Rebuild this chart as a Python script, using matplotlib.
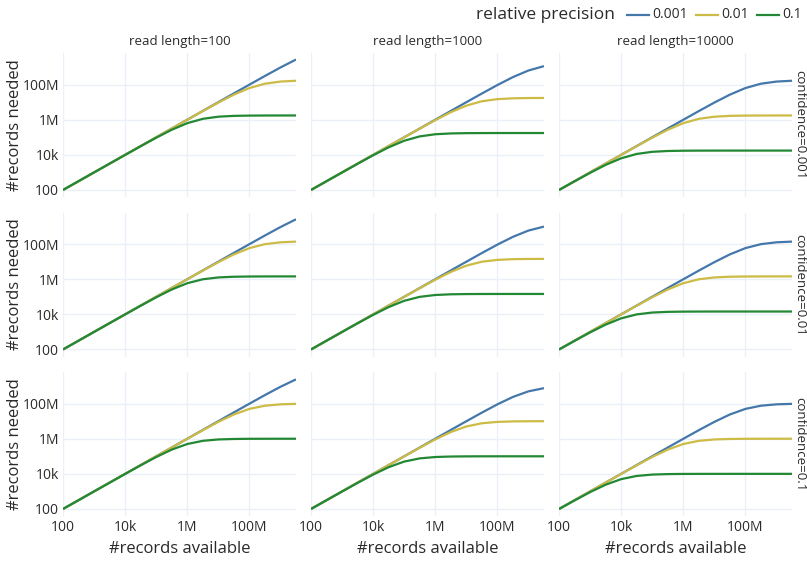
import matplotlib
matplotlib.use("Agg")
import matplotlib.pyplot as plt
from matplotlib.lines import Line2D
import matplotlib.ticker as mticker

plt.rcParams['font.family'] = ['Open Sans', 'DejaVu Sans']

# ---------------- data ----------------
records_available = [1e2, 3.162e2, 1e3, 3.162e3, 1e4, 3.162e4, 1e5, 3.162e5,
                     1e6, 3.162e6, 1e7, 3.162e7, 1e8, 3.162e8, 1e9, 3.162e9]

precisions = ["0.001", "0.01", "0.1"]
read_lengths = ["100", "1000", "10000"]
confidences = ["0.001", "0.01", "0.1"]

# confidence = 0.001
conf0001_rl100 = [
    [100, 316, 1000, 3162, 10000, 31620, 100000, 316200, 1000000, 3162000, 9994000, 31560000, 99430000, 310600000, 945900000, 2678000000],
    [100, 316, 1000, 3162, 10000, 31620, 99940, 315600, 994300, 3106000, 9459000, 26780000, 63640000, 112650000, 148940000, 165820000],
    [100, 316, 999.4, 3156, 9943, 31060, 94590, 267800, 636400, 1126500, 1489400, 1658200, 1719900, 1740400, 1746900, 1749000],
]
conf0001_rl1000 = [
    [100, 316, 1000, 3162, 10000, 31620, 100000, 316200, 999400, 3156000, 9943000, 31060000, 94590000, 267800000, 636400000, 1126500000],
    [100, 316, 1000, 3162, 9994, 31560, 99430, 310600, 945900, 2678000, 6364000, 11265000, 14894000, 16582000, 17199000, 17404000],
    [99.9, 315.6, 994, 3106, 9459, 26780, 63640, 112650, 148940, 165820, 171990, 174040, 174690, 174900, 174970, 175000],
]
conf0001_rl10000 = [
    [100, 316, 1000, 3162, 10000, 31620, 99940, 315600, 994300, 3106000, 9459000, 26780000, 63640000, 112650000, 148940000, 165820000],
    [100, 316, 999.4, 3156, 9943, 31060, 94590, 267800, 636400, 1126500, 1489400, 1658200, 1719900, 1740400, 1746900, 1749000],
    [99.4, 310.6, 946, 2678, 6364, 11265, 14894, 16582, 17199, 17404, 17469, 17490, 17497, 17500, 17500, 17500],
]
# confidence = 0.01
conf001_rl100 = [
    [100, 316, 1000, 3162, 10000, 31620, 100000, 316200, 1000000, 3162000, 9993000, 31550000, 99320000, 309500000, 935500000, 2596000000],
    [100, 316, 1000, 3162, 10000, 31620, 99930, 315500, 993200, 3095000, 9355000, 25960000, 59180000, 99410000, 126640000, 138640000],
    [100, 316, 999.3, 3155, 9932, 30950, 93550, 259600, 591800, 994100, 1266400, 1386400, 1429300, 1443400, 1447900, 1449300],
]
conf001_rl1000 = [
    [100, 316, 1000, 3162, 10000, 31620, 100000, 316200, 999300, 3155000, 9932000, 30950000, 93550000, 259600000, 591800000, 994100000],
    [100, 316, 1000, 3162, 9993, 31550, 99320, 309500, 935500, 2596000, 5918000, 9941000, 12664000, 13864000, 14293000, 14434000],
    [99.9, 315.5, 993, 3095, 9355, 25960, 59180, 99410, 126640, 138640, 142930, 144340, 144790, 144930, 144980, 145000],
]
conf001_rl10000 = [
    [100, 316, 1000, 3162, 10000, 31620, 99930, 315500, 993200, 3095000, 9355000, 25960000, 59180000, 99410000, 126640000, 138640000],
    [100, 316, 999.3, 3155, 9932, 30950, 93550, 259600, 591800, 994100, 1266400, 1386400, 1429300, 1443400, 1447900, 1449300],
    [99.3, 309.5, 935.5, 2596, 5918, 9941, 12664, 13864, 14293, 14434, 14479, 14493, 14498, 14500, 14500, 14500],
]
# confidence = 0.1
conf01_rl100 = [
    [100, 316.2, 1000, 3162, 10000, 31620, 100000, 316200, 999900, 3161000, 9990000, 31520000, 99010000, 306500000, 909100000, 2402000000],
    [100, 316.2, 1000, 3162, 9999, 31610, 99900, 315200, 990100, 3065000, 9091000, 24020000, 50000000, 75980000, 90910000, 96930000],
    [100, 316.1, 999, 3152, 9901, 30650, 90910, 240200, 500000, 759800, 909100, 969300, 990100, 996800, 999000, 999700],
]
conf01_rl1000 = [
    [100, 316.2, 1000, 3162, 10000, 31620, 99990, 316100, 999000, 3152000, 9901000, 30650000, 90910000, 240200000, 500000000, 759800000],
    [100, 316.2, 1000, 3161, 9990, 31520, 99010, 306500, 909100, 2402000, 5000000, 7598000, 9091000, 9693000, 9901000, 9968000],
    [99.9, 315.2, 990, 3065, 9091, 24020, 50000, 75980, 90910, 96930, 99010, 99680, 99900, 99970, 99990, 100000],
]
conf01_rl10000 = [
    [100, 316.2, 1000, 3162, 9999, 31610, 99900, 315200, 990100, 3065000, 9091000, 24020000, 50000000, 75980000, 90910000, 96930000],
    [100, 316.1, 999, 3152, 9901, 30650, 90910, 240200, 500000, 759800, 909100, 969300, 990100, 996800, 999000, 999700],
    [99, 306.5, 909, 2402, 5000, 7598, 9091, 9693, 9901, 9968, 9990, 9997, 9999, 10000, 10000, 10000],
]

panels = [
    [conf0001_rl100, conf0001_rl1000, conf0001_rl10000],
    [conf001_rl100, conf001_rl1000, conf001_rl10000],
    [conf01_rl100, conf01_rl1000, conf01_rl10000],
]

tick_values = [1e2, 1e4, 1e6, 1e8]
tick_labels = ["100", "10k", "1M", "100M"]

# ---------------- styling ----------------
colors = ["#4477AA", "#CCBB44", "#228833"]
grid_color = "#EBF0F8"
text_color = "#2a2a2a"

W, H = 807, 563
fig = plt.figure(figsize=(W / 100, H / 100), dpi=100)
fig.patch.set_facecolor("white")

col_left = [63, 311, 559]
col_w = 233
row_top = [53, 212.5, 372]
row_h = 144

for r in range(3):
    for c in range(3):
        ax = fig.add_axes([col_left[c] / W, 1 - (row_top[r] + row_h) / H, col_w / W, row_h / H])
        ax.set_xscale("log")
        ax.set_yscale("log")
        ax.set_xlim(1e2, 3.162e9)
        ax.set_ylim(10 ** 1.6, 10 ** 9.8)
        for s in ax.spines.values():
            s.set_visible(False)
        ax.xaxis.set_major_locator(mticker.FixedLocator(tick_values))
        ax.yaxis.set_major_locator(mticker.FixedLocator(tick_values))
        ax.xaxis.set_minor_locator(mticker.NullLocator())
        ax.yaxis.set_minor_locator(mticker.NullLocator())
        ax.grid(True, color=grid_color, linewidth=1.0)
        ax.set_axisbelow(True)
        ax.tick_params(length=0, labelsize=10, colors=text_color, pad=3)
        if c == 0:
            ax.set_yticklabels(tick_labels)
        else:
            ax.set_yticklabels([])
        if r == 2:
            ax.set_xticklabels(tick_labels)
        else:
            ax.set_xticklabels([])
        for k in range(3):
            ax.plot(records_available, panels[r][c][k], color=colors[k], linewidth=1.6,
                    solid_capstyle="butt", solid_joinstyle="round", zorder=3 + k)

# subplot titles and x titles
for c in range(3):
    xc = (col_left[c] + col_w / 2) / W
    fig.text(xc, 1 - 42 / H, "read length=" + read_lengths[c], ha="center", va="center",
             fontsize=9.5, color=text_color)
    fig.text(xc, 1 - 549 / H, "#records available", ha="center", va="center",
             fontsize=12, color=text_color)

# row labels
for r in range(3):
    yc = 1 - (row_top[r] + row_h / 2) / H
    fig.text(15 / W, yc, "#records needed", ha="center", va="center", rotation=90,
             fontsize=12, color=text_color)
    fig.text(800 / W, yc, "confidence=" + confidences[r], ha="center", va="center",
             rotation=-90, fontsize=9.5, color=text_color)

# legend
ly = 1 - 15 / H
fig.text(615 / W, ly, "relative precision", ha="right", va="center", fontsize=12.5, color=text_color)
leg_line_x = [(627, 649), (696, 718), (757, 779)]
leg_text_x = [652, 721, 782]
for k in range(3):
    x0, x1 = leg_line_x[k]
    fig.add_artist(Line2D([x0 / W, x1 / W], [ly, ly], transform=fig.transFigure,
                          color=colors[k], linewidth=1.6))
    fig.text(leg_text_x[k] / W, ly, precisions[k], ha="left", va="center", fontsize=10,
             color=text_color)

fig.savefig("out.png", dpi=100, facecolor="white")
